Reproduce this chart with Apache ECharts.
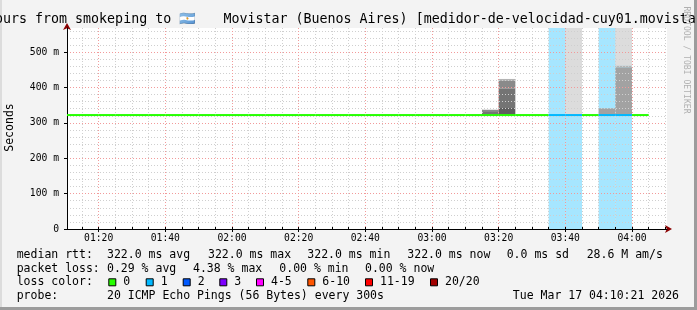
<!DOCTYPE html>
<html><head><meta charset="utf-8">
<script src="https://cdn.jsdelivr.net/npm/echarts@6/dist/echarts.min.js"></script>
<style>html,body{margin:0;padding:0;background:#f3f3f3}#c{width:697px;height:310px}</style>
</head><body><div id="c"></div>
<script>
// ---------- data ----------
const titleLead = 'Last 3 Hours from smokeping to ';
const titleFlag = '\u{1F1E6}\u{1F1F7}';
const titleRest = 'Movistar (Buenos Aires) [medidor-de-velocidad-cuy01.movistar.com.ar]';
const axisStart = '01:10:30';
const axisEnd = '04:10:30';
const timeLabels = ['01:20','01:40','02:00','02:20','02:40','03:00','03:20','03:40','04:00'];
const minorTimeTicks = ['01:15','01:20','01:25','01:30','01:35','01:40','01:45','01:50','01:55','02:00',
  '02:05','02:10','02:15','02:20','02:25','02:30','02:35','02:40','02:45','02:50','02:55','03:00',
  '03:05','03:10','03:15','03:20','03:25','03:30','03:35','03:40','03:45','03:50','03:55','04:00','04:05','04:10'];
const rttTicks = [0,100,200,300,400,500];
const rttMinorTicks = [20,40,60,80,120,140,160,180,220,240,260,280,320,340,360,380,420,440,460,480,520,540,560];
const rttMax = 568;
const stepMinutes = 5;
const intervalStarts = ['01:10','01:15','01:20','01:25','01:30','01:35','01:40','01:45','01:50','01:55',
  '02:00','02:05','02:10','02:15','02:20','02:25','02:30','02:35','02:40','02:45','02:50','02:55',
  '03:00','03:05','03:10','03:15','03:20','03:25','03:30','03:35','03:40','03:45','03:50','03:55','04:00'];
const medianRtt = [322,322,322,322,322,322,322,322,322,322,322,322,322,322,322,322,322,322,322,322,322,322,
  322,322,322,322,322,322,322,322,322,322,322,322,322];
const lossCount = [0,0,0,0,0,0,0,0,0,0,0,0,0,0,0,0,0,0,0,0,0,0,
  0,0,0,0,0,0,0,1,1,0,1,1,0];
// smoke layers: [start, end, low ms, high ms]
const smokeLightest = [['03:40','03:45',322,568],['03:55','04:00',461,568]];
const smokeLight = [['03:20','03:25',420,424],['03:55','04:00',456,461]];
const smokeMid = [['03:50','03:55',322,341],['03:55','04:00',322,456]];
const smokeDark = [['03:15','03:20',333,337],['03:20','03:25',397,420]];
const smokeDarker = [['03:15','03:20',322,333],['03:20','03:25',342,397]];
const smokeDarkest = [['03:20','03:25',322,342]];
const lossLabels = ['0','1','2','3','4-5','6-10','11-19','20/20'];
const lossColors = ['#26ff00','#00b8ff','#0059ff','#7e00ff','#ff00ff','#ff5500','#ff0000','#a10000'];
const lossUpper = [0,1,2,3,5,10,19,20];
const statRtt = ['322.0 ms avg','322.0 ms max','322.0 ms min','322.0 ms now','0.0 ms sd','28.6 M am/s'];
const statLoss = ['0.29 % avg','4.38 % max','0.00 % min','0.00 % now'];
const probeText = '20 ICMP Echo Pings (56 Bytes) every 300s';
const stampText = 'Tue Mar 17 04:10:21 2026';

// ---------- helpers ----------
function toMin(s){const p=s.split(':').map(Number);return p[0]*60+p[1]+(p[2]||0)/60;}
function fmt(v){const h=Math.floor(v/60+1e-6),m=Math.round(v-h*60);return String(h).padStart(2,'0')+':'+String(m).padStart(2,'0');}
function bucket(n){for(let i=0;i<lossUpper.length;i++){if(n<=lossUpper[i])return i;}return lossUpper.length-1;}
function hexA(hex,a){const r=parseInt(hex.slice(1,3),16),g=parseInt(hex.slice(3,5),16),b=parseInt(hex.slice(5,7),16);return `rgba(${r},${g},${b},${a})`;}

const MONO = '"DejaVu Sans Mono", monospace';
const medianData = intervalStarts.map((s,i)=>[toMin(s),toMin(s)+stepMinutes,medianRtt[i],lossCount[i]]);
const lossData = intervalStarts.map((s,i)=>[toMin(s),toMin(s)+stepMinutes,lossCount[i]]).filter(d=>d[2]>0);

function rectItem(params, api, lo, hi, fill){
  const cs = params.coordSys;
  const p0 = api.coord([api.value(0), hi]);
  const p1 = api.coord([api.value(1), lo]);
  const r = echarts.graphic.clipRectByRect({x:p0[0],y:p0[1],width:p1[0]-p0[0],height:p1[1]-p0[1]},
    {x:cs.x,y:cs.y,width:cs.width,height:cs.height});
  return r && {type:'rect', shape:r, style:{fill:fill}};
}
function smokeSeries(name, rows, color){
  return {type:'custom', name, z:4, xAxisIndex:0, yAxisIndex:0,
    data: rows.map(r=>[toMin(r[0]),toMin(r[1]),r[2],r[3]]),
    renderItem:(params,api)=>rectItem(params,api,api.value(2),api.value(3),color)};
}

const chart = echarts.init(document.getElementById('c'), null, {renderer:'canvas'});

const dotted = [1,2];
const option = {
  animation:false,
  backgroundColor:'#f3f3f3',
  grid:{left:67,right:30,top:28,bottom:81,containLabel:false,
        show:true,backgroundColor:'#ffffff',borderWidth:0},
  xAxis:[
    {type:'value',min:toMin(axisStart),max:toMin(axisEnd),position:'bottom',z:11,
     axisLine:{show:true,onZero:false,lineStyle:{color:'#000',width:1}},
     axisTick:{show:true,length:3,customValues:timeLabels.map(toMin),lineStyle:{color:'#000'}},
     axisLabel:{show:true,customValues:timeLabels.map(toMin),formatter:fmt,margin:4,
                fontFamily:'DejaVu Sans Mono',fontSize:9.7,color:'#000'},
     splitLine:{show:true,lineStyle:{color:'#f29a9a',type:dotted,width:1}}},
    {type:'value',min:toMin(axisStart),max:toMin(axisEnd),position:'bottom',z:10,
     axisLine:{show:true,onZero:false,symbol:['none','arrow'],symbolSize:[6,7],symbolOffset:[0,5],
               lineStyle:{color:'#8b0000',width:1}},
     axisTick:{show:true,inside:true,length:2,customValues:minorTimeTicks.map(toMin),lineStyle:{color:'#000'}},
     axisLabel:{show:false},
     splitLine:{show:true,lineStyle:{color:'#cfcfcf',type:dotted,width:1}}}
  ],
  yAxis:[
    {type:'value',min:0,max:rttMax,z:11,
     axisLine:{show:true,onZero:false,lineStyle:{color:'#000',width:1}},
     axisTick:{show:true,length:3,customValues:rttTicks,lineStyle:{color:'#000'}},
     axisLabel:{show:true,customValues:rttTicks,margin:8,formatter:v=>v===0?'0':v+' m',
                fontFamily:'DejaVu Sans Mono',fontSize:9.7,color:'#000'},
     splitLine:{show:true,lineStyle:{color:'#f29a9a',type:dotted,width:1}}},
    {type:'value',min:0,max:rttMax,z:10,position:'left',
     axisLine:{show:true,onZero:false,symbol:['none','arrow'],symbolSize:[6,7],symbolOffset:[0,5],
               lineStyle:{color:'#8b0000',width:1}},
     axisTick:{show:false,customValues:rttMinorTicks},
     axisLabel:{show:false,customValues:rttMinorTicks},
     splitLine:{show:true,lineStyle:{color:'#cfcfcf',type:dotted,width:1}}}
  ],
  series:[
    {type:'custom',name:'loss',z:3,xAxisIndex:0,yAxisIndex:0,data:lossData,
     renderItem:(params,api)=>rectItem(params,api,0,rttMax,hexA(lossColors[bucket(api.value(2))],0.35))},
    smokeSeries('s1',smokeLightest,'#dcdcdc'),
    smokeSeries('s2',smokeLight,'#b4b4b4'),
    smokeSeries('s3',smokeMid,'#a2a2a2'),
    smokeSeries('s4',smokeDark,'#8a8a8a'),
    smokeSeries('s5',smokeDarker,'#747474'),
    smokeSeries('s6',smokeDarkest,'#5e5e5e'),
    {type:'custom',name:'median',z:20,xAxisIndex:0,yAxisIndex:0,data:medianData,
     renderItem:(params,api)=>{
       const cs=params.coordSys;
       const p0=api.coord([api.value(0),api.value(2)]);
       const p1=api.coord([api.value(1),api.value(2)]);
       const x0=Math.max(p0[0],cs.x), x1=Math.min(p1[0],cs.x+cs.width);
       return {type:'line',shape:{x1:x0,y1:p0[1],x2:x1,y2:p1[1]},
               style:{stroke:lossColors[bucket(api.value(3))],lineWidth:2}};
     }}
  ],
  graphic:[]
};

const G = option.graphic;
function txt(x,y,text,size,opts){G.push(Object.assign({type:'text',x,y,silent:true,z:20,
  style:{text,font:size+'px '+MONO,fill:'#000',align:'left',verticalAlign:'middle'}},opts||{}));}
// frame
G.push({type:'rect',silent:true,z:1,shape:{x:0,y:307,width:697,height:3},style:{fill:'#9c9c9c'}});
G.push({type:'rect',silent:true,z:1,shape:{x:694,y:0,width:3,height:310},style:{fill:'#9c9c9c'}});
G.push({type:'rect',silent:true,z:1,shape:{x:0,y:0,width:2,height:307},style:{fill:'#dcdcdc'}});
// title
txt(3-9*8,19.5,titleLead,13.3);
txt(179,19.5,titleFlag,13.3);
txt(223.5,19.5,titleRest,13.3);
// watermark
G.push({type:'text',silent:true,z:20,x:686.5,y:60,rotation:-Math.PI/2,
  style:{text:'RRDTOOL / TOBI OETIKER',font:'8.1px '+MONO,fill:'#b0b0b0',align:'center',verticalAlign:'middle'}});
// y name
G.push({type:'text',silent:true,z:20,x:10.5,y:127.5,rotation:Math.PI/2,
  style:{text:'Seconds',font:'11.5px '+MONO,fill:'#000',align:'center',verticalAlign:'middle'}});
// legend rows
const rowY=[255,268.8,282.3,296.3];
txt(16.7,rowY[0],'median rtt:',11.5);
[107,208,307.3,407.3,506.7,586.7].forEach((x,i)=>txt(x,rowY[0],statRtt[i],11.5));
txt(16.7,rowY[1],'packet loss:',11.5);
[107,193,279.3,365].forEach((x,i)=>txt(x,rowY[1],statLoss[i],11.5));
txt(16.7,rowY[2],'loss color:',11.5);
[108.3,145.7,182.7,219.3,256,307.3,365,430].forEach((x,i)=>{
  G.push({type:'rect',silent:true,z:20,shape:{x:x+0.5,y:rowY[2]-3.5,width:7,height:7},
          style:{fill:lossColors[i],stroke:'#000',lineWidth:1}});
  txt(x+15,rowY[2],lossLabels[i],11.5);
});
txt(16.7,rowY[3],'probe:',11.5);
txt(107,rowY[3],probeText,11.5);
txt(679,rowY[3],stampText,11.5,{style:{text:stampText,font:'11.5px '+MONO,fill:'#000',align:'right',verticalAlign:'middle'}});

chart.setOption(option);
</script></body></html>
